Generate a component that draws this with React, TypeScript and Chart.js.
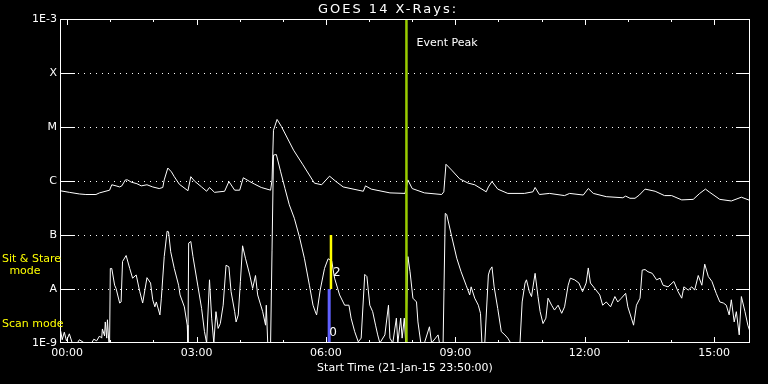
import React, { useEffect, useRef } from "react";
import { Chart, registerables } from "chart.js";

Chart.register(...registerables);

// ---- Text ----
const TITLE = "GOES 14 X-Rays:";
const X_TITLE = "Start Time (21-Jan-15 23:50:00)";
const EVENT_LABEL = "Event Peak";
const SIT_STARE_LABEL = ["Sit & Stare", "mode"];
const SCAN_LABEL = "Scan mode";
const SIT_STARE_NUM = "2";
const SCAN_NUM = "0";

// ---- Axes (time in minutes from 00:00, flux as log10 W/m^2) ----
const X_MIN = -10;
const X_MAX = 950;
const MAJOR_TICKS = [0, 180, 360, 540, 720, 900];
const MINOR_TICKS = [0, 60, 120, 180, 240, 300, 360, 420, 480, 540, 600, 660, 720, 780, 840, 900];
const Y_LEVELS = [-9, -8, -7, -6, -5, -4, -3];
const Y_LABELS = ["1E-9", "A", "B", "C", "M", "X", "1E-3"];
const GRID_LEVELS = [-8, -7, -6, -5, -4];

// ---- Markers ----
const EVENT_TIME = 472;
const SIT_STARE_TIME = 367;
const SIT_STARE_RANGE = [-7, -8];
const SCAN_TIME = 364.5;
const SCAN_RANGE = [-8, -9];

// ---- Long channel (1-8 A) ----
const LONG_TIME = [
  -10, 3, 17, 26, 40, 45, 59, 62, 68, 73, 76, 81, 84, 89, 97, 103, 111, 119, 128, 133,
  135, 140, 145, 149, 156, 168, 172, 177, 187, 194, 198, 205, 219, 225, 233, 240, 245, 254, 261, 270,
  283, 285, 287, 292, 298, 315, 328, 344, 354, 365, 374, 384, 412, 415, 423, 449, 470, 474, 480, 497,
  521, 524, 527, 535, 546, 558, 567, 583, 586, 591, 599, 613, 636, 648, 651, 657, 671, 692, 699, 718,
  725, 732, 750, 773, 777, 783, 790, 796, 804, 818, 831, 841, 855, 871, 880, 888, 894, 908, 924, 938, 950,
];
const LONG_FLUX = [
  -6.18, -6.21, -6.24, -6.25, -6.25, -6.22, -6.17, -6.07, -6.09, -6.11, -6.09, -5.98, -5.98, -6.02, -6.05, -6.09, -6.07, -6.11, -6.14, -6.12,
  -5.98, -5.76, -5.83, -5.92, -6.06, -6.18, -5.92, -6.0, -6.11, -6.19, -6.12, -6.21, -6.19, -6.01, -6.17, -6.17, -5.94, -6.01, -6.06, -6.12,
  -6.17, -5.98, -5.06, -4.86, -4.99, -5.43, -5.7, -6.04, -6.07, -5.91, -6.01, -6.11, -6.19, -6.09, -6.15, -6.22, -6.23, -5.98, -6.14, -6.22,
  -6.25, -6.2, -5.69, -5.8, -5.96, -6.04, -6.07, -6.2, -6.11, -6.01, -6.15, -6.23, -6.23, -6.2, -6.12, -6.25, -6.23, -6.27, -6.23, -6.26,
  -6.14, -6.23, -6.29, -6.31, -6.28, -6.32, -6.32, -6.26, -6.15, -6.19, -6.27, -6.27, -6.35, -6.34, -6.23, -6.15, -6.21, -6.34, -6.37, -6.3, -6.36,
];

// ---- Short channel (0.5-4 A) ----
const SHORT_TIME = [
  -9, -7, -4, -1, 3, 7, 14, 17, 24, 34, 37, 41, 45, 48, 49, 52, 53, 55, 56, 58,
  59, 60, 62, 66, 68, 73, 75, 77, 82, 87, 91, 96, 101, 105, 111, 116, 119, 122, 124, 129,
  131, 135, 139, 141, 144, 149, 155, 157, 163, 167, 168, 169, 172, 175, 182, 187, 191, 194, 198, 201,
  204, 207, 210, 213, 217, 221, 225, 228, 233, 235, 238, 241, 244, 248, 254, 258, 262, 265, 272, 276,
  277, 279, 283, 285, 287, 291, 297, 303, 309, 316, 323, 330, 337, 342, 346, 347, 352, 358, 363, 368,
  372, 379, 386, 392, 395, 400, 405, 409, 414, 417, 421, 425, 429, 432, 435, 442, 447, 449, 453, 458,
  460, 464, 466, 469, 471, 474, 477, 481, 486, 488, 492, 497, 504, 507, 516, 518, 523, 526, 528, 535,
  542, 548, 555, 560, 562, 567, 572, 575, 577, 581, 586, 588, 591, 594, 599, 604, 609, 613, 617, 627,
  630, 633, 637, 639, 643, 646, 651, 655, 658, 662, 666, 669, 674, 678, 683, 688, 692, 697, 700, 706,
  712, 717, 722, 725, 728, 734, 741, 745, 750, 756, 762, 766, 771, 777, 780, 785, 788, 792, 797, 800,
  804, 808, 814, 820, 825, 829, 836, 844, 850, 855, 858, 864, 869, 873, 878, 883, 887, 892, 897, 903,
  908, 913, 917, 921, 924, 928, 931, 935, 938, 943, 947, 950,
];
const SHORT_FLUX = [
  -8.78, -8.94, -8.8, -8.96, -8.83, -9, -9, -8.94, -9, -9, -8.93, -8.96, -8.87, -8.91, -8.74, -8.87, -8.61, -8.91, -8.57, -9,
  -9, -7.62, -7.62, -7.93, -7.99, -8.26, -8.24, -7.49, -7.38, -7.62, -7.8, -7.74, -8.05, -8.26, -7.79, -7.89, -8.2, -8.33, -8.24, -8.48,
  -8.17, -7.4, -6.93, -6.94, -7.31, -7.62, -7.93, -8.11, -8.33, -8.67, -9, -7.15, -7.12, -7.4, -7.96, -8.36, -8.79, -9, -7.83, -8.54,
  -9, -8.42, -8.73, -8.64, -8.3, -7.56, -7.59, -8.05, -8.42, -8.61, -8.48, -7.86, -7.2, -7.43, -7.74, -7.99, -7.75, -8.11, -8.42, -8.67,
  -8.3, -9, -9, -7.28, -5.52, -5.51, -5.83, -6.14, -6.44, -6.69, -7.03, -7.43, -7.93, -8.3, -8.45, -8.48, -8.02, -7.62, -7.44, -7.48,
  -7.8, -8.11, -8.3, -8.3, -8.54, -8.79, -8.98, -8.91, -7.73, -7.77, -8.3, -8.42, -8.67, -8.85, -9, -8.85, -8.3, -8.91, -9, -8.54,
  -9, -8.54, -8.91, -8.54, -9, -7.4, -7.68, -8.17, -8.24, -8.61, -9, -9, -8.7, -9, -8.85, -9, -9, -6.6, -6.62, -7.03,
  -7.43, -7.68, -7.93, -8.11, -7.96, -8.17, -8.3, -8.45, -9, -9, -7.74, -7.65, -7.59, -7.96, -8.36, -8.79, -8.85, -8.91, -9, -9,
  -9, -8.24, -7.89, -7.83, -8.05, -8.14, -7.71, -8.14, -8.42, -8.64, -8.54, -8.17, -8.3, -8.39, -8.3, -8.45, -8.33, -7.93, -7.8, -7.83,
  -7.89, -8.05, -7.89, -7.61, -7.89, -7.99, -8.11, -8.3, -8.24, -8.33, -8.14, -8.24, -8.17, -8.08, -8.33, -8.54, -8.67, -8.3, -8.17, -7.65,
  -7.64, -7.68, -7.71, -7.83, -7.8, -7.93, -7.96, -7.86, -8.05, -8.17, -7.96, -8.02, -7.96, -8.02, -7.75, -7.93, -7.54, -7.77, -7.86, -8.08,
  -8.24, -8.26, -8.3, -8.48, -8.2, -8.61, -8.42, -8.85, -8.14, -8.42, -8.67, -8.79,
];

const FONT = "'DejaVu Sans', 'Liberation Sans', sans-serif";
const WHITE = "#ffffff";
const YELLOW = "#ffff00";
const EVENT_COLOR = "#99cc00";
const SCAN_COLOR = "#6060ff";

function fmtTime(v: number): string {
  const h = Math.floor(v / 60);
  const m = Math.round(v - h * 60);
  return String(h).padStart(2, "0") + ":" + String(m).padStart(2, "0");
}

const decorPlugin = {
  id: "goesDecor",
  beforeDatasetsDraw(chart: any) {
    const { ctx, chartArea, scales } = chart;
    const { left, right, top, bottom } = chartArea;
    const y = scales.y;
    const x = scales.x;
    ctx.save();
    ctx.strokeStyle = WHITE;
    ctx.lineWidth = 1;
    // dotted level lines
    ctx.setLineDash([1, 5]);
    for (const v of GRID_LEVELS) {
      const py = Math.round(y.getPixelForValue(v)) + 0.5;
      ctx.beginPath();
      ctx.moveTo(left + 18, py);
      ctx.lineTo(right - 14, py);
      ctx.stroke();
    }
    ctx.setLineDash([]);
    // level ticks on left and right
    for (const v of GRID_LEVELS) {
      const py = Math.round(y.getPixelForValue(v)) + 0.5;
      ctx.beginPath();
      ctx.moveTo(left, py);
      ctx.lineTo(left + 15, py);
      ctx.moveTo(right - 14, py);
      ctx.lineTo(right, py);
      ctx.stroke();
    }
    // time ticks on bottom and top
    for (const m of MINOR_TICKS) {
      const len = MAJOR_TICKS.includes(m) ? 6 : 3;
      const px = Math.round(x.getPixelForValue(m)) + 0.5;
      ctx.beginPath();
      ctx.moveTo(px, bottom);
      ctx.lineTo(px, bottom - len);
      ctx.moveTo(px, top);
      ctx.lineTo(px, top + len);
      ctx.stroke();
    }
    ctx.restore();
  },
  afterDatasetsDraw(chart: any) {
    const { ctx, chartArea, scales } = chart;
    const { left, right, top, bottom } = chartArea;
    const y = scales.y;
    const x = scales.x;
    ctx.save();
    ctx.strokeStyle = WHITE;
    ctx.lineWidth = 1;
    ctx.strokeRect(left + 0.5, top + 0.5, right - left - 1, bottom - top - 1);

    // title
    ctx.fillStyle = WHITE;
    ctx.textBaseline = "middle";
    ctx.textAlign = "center";
    ctx.font = "13px " + FONT;
    try {
      (ctx as any).letterSpacing = "2px";
    } catch (e) {}
    ctx.fillText(TITLE, 388, 10);
    try {
      (ctx as any).letterSpacing = "0px";
    } catch (e) {}

    ctx.font = "11px " + FONT;
    // mode labels
    ctx.fillStyle = YELLOW;
    ctx.textAlign = "left";
    ctx.fillText(SIT_STARE_LABEL[0], 2, y.getPixelForValue(-7.45));
    ctx.textAlign = "center";
    ctx.fillText(SIT_STARE_LABEL[1], 25, y.getPixelForValue(-7.67));
    ctx.textAlign = "left";
    ctx.fillText(SCAN_LABEL, 2, y.getPixelForValue(-8.65));
    // event label
    ctx.fillStyle = WHITE;
    ctx.fillText(EVENT_LABEL, x.getPixelForValue(EVENT_TIME) + 10, y.getPixelForValue(-3.45));
    // mode numbers
    ctx.font = "12px " + FONT;
    ctx.fillText(SIT_STARE_NUM, x.getPixelForValue(SIT_STARE_TIME) + 2, y.getPixelForValue(-7.7));
    ctx.fillText(SCAN_NUM, x.getPixelForValue(SCAN_TIME) + 0, y.getPixelForValue(-8.82));
    ctx.restore();
  },
};

export default function App() {
  const canvasRef = useRef<HTMLCanvasElement | null>(null);

  useEffect(() => {
    document.body.style.margin = "0";
    document.body.style.background = "#000";
    const canvas = canvasRef.current;
    if (!canvas) return;

    const longData = LONG_TIME.map((t, i) => ({ x: t, y: LONG_FLUX[i] }));
    const shortData = SHORT_TIME.map((t, i) => ({ x: t, y: SHORT_FLUX[i] }));

    const chart = new Chart(canvas, {
      type: "line",
      data: {
        datasets: [
          {
            data: [
              { x: EVENT_TIME, y: -3 },
              { x: EVENT_TIME, y: -9 },
            ],
            borderColor: EVENT_COLOR,
            borderWidth: 2.5,
            pointRadius: 0,
          },
          {
            data: [
              { x: SIT_STARE_TIME, y: SIT_STARE_RANGE[0] },
              { x: SIT_STARE_TIME, y: SIT_STARE_RANGE[1] },
            ],
            borderColor: YELLOW,
            borderWidth: 2.5,
            pointRadius: 0,
          },
          {
            data: [
              { x: SCAN_TIME, y: SCAN_RANGE[0] },
              { x: SCAN_TIME, y: SCAN_RANGE[1] },
            ],
            borderColor: SCAN_COLOR,
            borderWidth: 3,
            pointRadius: 0,
          },
          {
            data: longData,
            borderColor: WHITE,
            borderWidth: 1,
            pointRadius: 0,
            tension: 0,
          },
          {
            data: shortData,
            borderColor: WHITE,
            borderWidth: 1,
            pointRadius: 0,
            tension: 0,
          },
        ],
      },
      options: {
        responsive: false,
        animation: false,
        devicePixelRatio: 1,
        layout: { padding: { left: 0, right: 18, top: 19, bottom: 0 } },
        plugins: {
          legend: { display: false },
          tooltip: { enabled: false },
          title: { display: false },
        },
        scales: {
          x: {
            type: "linear",
            min: X_MIN,
            max: X_MAX,
            afterBuildTicks: (s: any) => {
              s.ticks = MAJOR_TICKS.map((v) => ({ value: v }));
            },
            afterFit: (s: any) => {
              s.height = 41;
            },
            grid: { display: false, drawTicks: false },
            border: { display: false },
            ticks: {
              color: WHITE,
              font: { family: FONT, size: 11 },
              padding: 4,
              maxRotation: 0,
              autoSkip: false,
              callback: (v: any) => fmtTime(Number(v)),
            },
            title: {
              display: true,
              text: X_TITLE,
              color: WHITE,
              font: { family: FONT, size: 11 },
              padding: { top: 0, bottom: 9 },
            },
          },
          y: {
            type: "linear",
            min: -9,
            max: -3,
            afterBuildTicks: (s: any) => {
              s.ticks = Y_LEVELS.map((v) => ({ value: v }));
            },
            afterFit: (s: any) => {
              s.width = 60;
            },
            grid: { display: false, drawTicks: false },
            border: { display: false },
            ticks: {
              color: WHITE,
              font: { family: FONT, size: 11 },
              padding: 3,
              autoSkip: false,
              callback: (v: any) => {
                const i = Y_LEVELS.indexOf(Number(v));
                return i >= 0 ? Y_LABELS[i] : "";
              },
            },
          },
        },
      },
      plugins: [decorPlugin],
    } as any);

    return () => chart.destroy();
  }, []);

  return (
    <div style={{ position: "fixed", left: 0, top: 0, width: 768, height: 384, background: "#000" }}>
      <canvas ref={canvasRef} width={768} height={384} style={{ display: "block" }} />
    </div>
  );
}
